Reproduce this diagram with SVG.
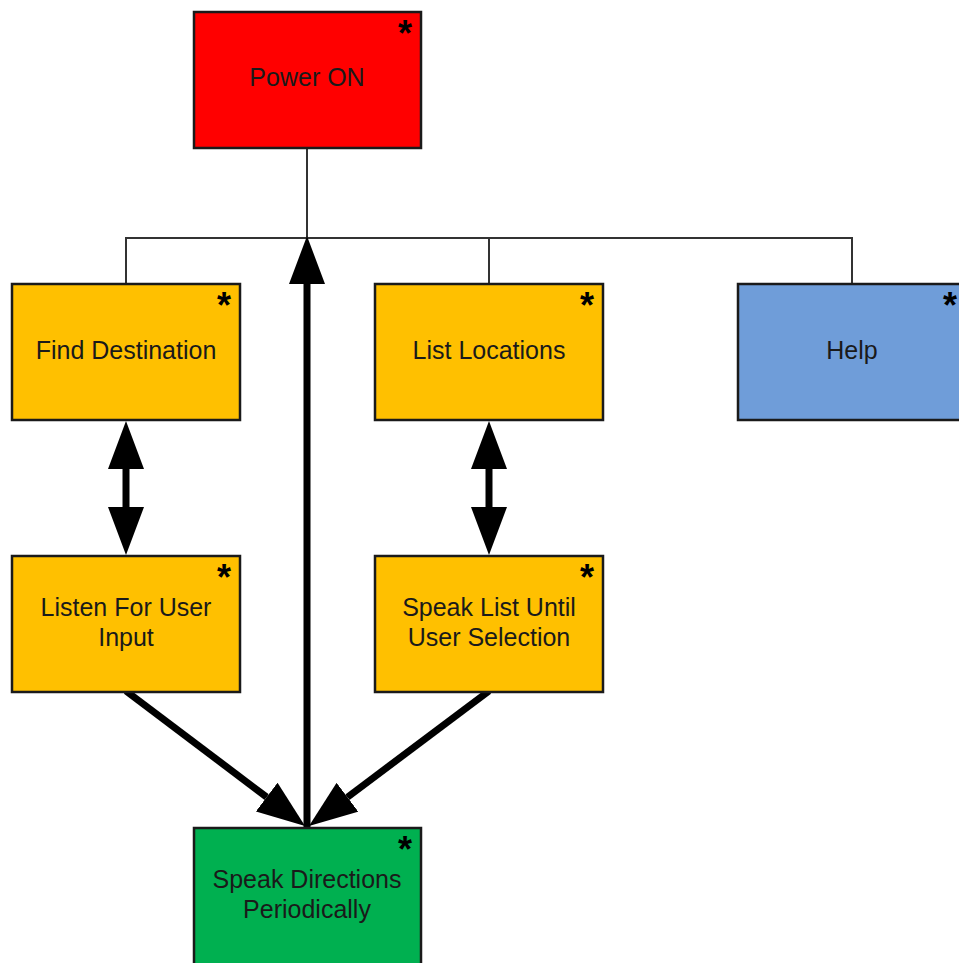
<svg xmlns="http://www.w3.org/2000/svg" width="959" height="963" viewBox="0 0 959 963">
<style>
.box{stroke:#1a1a1a;stroke-width:2.5}
.lbl{font-family:"Liberation Sans",Arial,sans-serif;font-size:25px;fill:#1a1a1a;text-anchor:middle}
.star{font-family:"Liberation Sans",Arial,sans-serif;font-size:36px;font-weight:bold;fill:#000;text-anchor:middle}
.tree{fill:none;stroke:#333;stroke-width:2}
.thick{fill:none;stroke:#000;stroke-width:7}
</style>
<defs>
<marker id="ah" viewBox="0 0 48 36" refX="0" refY="18" markerUnits="userSpaceOnUse" markerWidth="48" markerHeight="36" orient="auto-start-reverse">
<path d="M0,0 L48,18 L0,36 Z" fill="#000"/>
</marker>
</defs>
<rect width="959" height="963" fill="#fff"/>
<g id="connectors">
<path class="tree" d="M307,148 V238 M126,284 V238 H852 V284 M489,238 V284"/>
<line class="thick" x1="307" y1="828" x2="307" y2="284" marker-end="url(#ah)"/>
<line class="thick" x1="126" y1="469" x2="126" y2="507" marker-start="url(#ah)" marker-end="url(#ah)"/>
<line class="thick" x1="489" y1="469" x2="489" y2="507" marker-start="url(#ah)" marker-end="url(#ah)"/>
<line class="thick" x1="126" y1="691" x2="266.7" y2="797.1" marker-end="url(#ah)"/>
<line class="thick" x1="489" y1="691" x2="347.4" y2="797.2" marker-end="url(#ah)"/>
</g>
<g id="power-on">
<rect class="box" x="194" y="12" width="227" height="136" fill="#FF0000"/>
<text class="lbl" x="307" y="86">Power ON</text>
<text class="star" x="405" y="46">*</text>
</g>
<g id="find-destination">
<rect class="box" x="12" y="284" width="228" height="136" fill="#FFC000"/>
<text class="lbl" x="126" y="359">Find Destination</text>
<text class="star" x="224" y="318">*</text>
</g>
<g id="list-locations">
<rect class="box" x="375" y="284" width="228" height="136" fill="#FFC000"/>
<text class="lbl" x="489" y="359">List Locations</text>
<text class="star" x="587" y="318">*</text>
</g>
<g id="help">
<rect class="box" x="738" y="284" width="228" height="136" fill="#6F9DD9"/>
<text class="lbl" x="852" y="359">Help</text>
<text class="star" x="950" y="318">*</text>
</g>
<g id="listen-input">
<rect class="box" x="12" y="556" width="228" height="136" fill="#FFC000"/>
<text class="lbl" x="126" y="616">Listen For User</text>
<text class="lbl" x="126" y="646">Input</text>
<text class="star" x="224" y="590">*</text>
</g>
<g id="speak-list">
<rect class="box" x="375" y="556" width="228" height="136" fill="#FFC000"/>
<text class="lbl" x="489" y="616">Speak List Until</text>
<text class="lbl" x="489" y="646">User Selection</text>
<text class="star" x="587" y="590">*</text>
</g>
<g id="speak-directions">
<rect class="box" x="194" y="828" width="227" height="140" fill="#00B050"/>
<text class="lbl" x="307" y="888">Speak Directions</text>
<text class="lbl" x="307" y="918">Periodically</text>
<text class="star" x="405" y="862">*</text>
</g>
</svg>
